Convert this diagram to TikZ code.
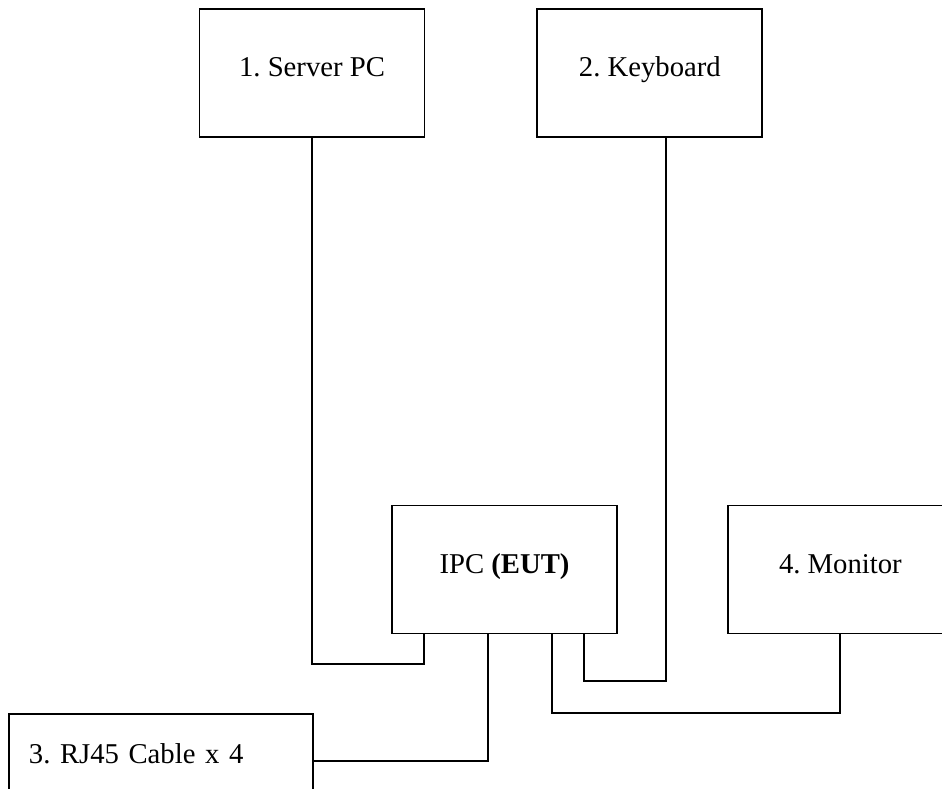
\documentclass[tikz,border=0pt]{standalone}
\usepackage{fontspec}
\setmainfont{Liberation Serif}
\frenchspacing
\usetikzlibrary{positioning, calc}
\tikzset{
  box/.style={draw, line width=1.9pt, minimum width=225pt, minimum height=128pt,
              inner sep=0pt, text height=20pt, text depth=12pt,
              font=\fontsize{28.7}{34}\selectfont},
  wire/.style={line width=1.9pt},
}

\begin{document}
\begin{tikzpicture}[x=1pt, y=-1pt]
  \useasboundingbox (0,0) rectangle (942,789);

  \node[box]                         (srv) at (312,73)     {1. Server PC};
  \node[box, right=111pt of srv]     (kbd)                 {2. Keyboard};
  \node[box]                         (ipc) at (504.5,569.5) {IPC \textbf{(EUT)}};
  \node[box, right=109pt of ipc]     (mon)                 {4. Monitor};
  \node[box, anchor=north west, minimum width=304pt, align=left, text width=264pt,
        inner xsep=20pt, text height=50pt, text depth=78pt] (rj) at (8,713) {3. RJ45 Cable x 4};

  % cable bends
  \coordinate (srvbend) at (424,664);
  \coordinate (kbdbend) at (584,681);
  \coordinate (monbend) at (552,713);
  \coordinate (rjbend)  at (488,761);

  \draw[wire] (srv.south) |- (srvbend) -- (srvbend |- ipc.south);
  \draw[wire] (kbdbend |- ipc.south) -- (kbdbend) -| ($(kbd.south)+(16,0)$);
  \draw[wire] (monbend |- ipc.south) -- (monbend) -| (mon.south);
  \draw[wire] (rjbend |- ipc.south) -- (rjbend) -- (rjbend -| rj.east);
\end{tikzpicture}
\end{document}
